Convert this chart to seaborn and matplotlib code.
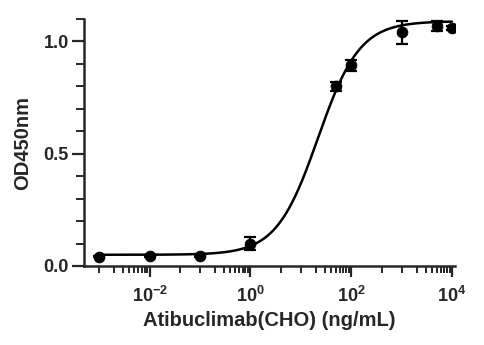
import numpy as np
import pandas as pd
import matplotlib
matplotlib.use("Agg")
import matplotlib.pyplot as plt
import matplotlib.ticker as mticker
import seaborn as sns

# Data
conc = [0.001, 0.01, 0.1, 1, 50, 100, 1000, 5000, 10000]
od450 = [0.042, 0.043, 0.044, 0.100, 0.800, 0.893, 1.040, 1.068, 1.061]
sem = [0.004, 0.004, 0.004, 0.030, 0.020, 0.025, 0.050, 0.022, 0.008]

# 4-parameter logistic fit parameters (bottom, top, EC50, Hill slope)
fit_bottom = 0.05
fit_top = 1.09
fit_ec50 = 22.0
fit_hill = 1.05

xlabel = "Atibuclimab(CHO) (ng/mL)"
ylabel = "OD450nm"
x_major_exponents = [-2, 0, 2, 4]
y_major_ticks = [0, 0.5, 1.0]

sns.set_style("ticks")
plt.rcParams['font.family'] = ['Liberation Sans', 'DejaVu Sans']
plt.rcParams['font.weight'] = 'bold'
plt.rcParams['mathtext.fontset'] = 'custom'
plt.rcParams['mathtext.rm'] = 'Liberation Sans:bold'
plt.rcParams['mathtext.it'] = 'Liberation Sans:bold'
plt.rcParams['mathtext.bf'] = 'Liberation Sans:bold'

fig = plt.figure(figsize=(4.84, 3.45), dpi=100)
ax = fig.add_axes([84/484, 1 - 266/345, (455-84)/484, (266-19)/345])

xs = np.logspace(-3, 4, 400)
ys = fit_bottom + (fit_top - fit_bottom) / (1 + (fit_ec50 / xs) ** fit_hill)
curve = pd.DataFrame({"x": xs, "y": ys})
sns.lineplot(data=curve, x="x", y="y", ax=ax, color="black", lw=1.8)

df = pd.DataFrame({"conc": conc, "od": od450, "sem": sem})
ax.errorbar(df["conc"], df["od"], yerr=df["sem"], fmt="none", ecolor="black",
            elinewidth=1.6, capsize=4, capthick=1.6, zorder=3)
sns.scatterplot(data=df, x="conc", y="od", ax=ax, color="black", s=60,
                edgecolor="black", zorder=4)

ax.set_xscale("log")
ax.set_xlim(10**-3.3, 10**4.06)
ax.set_ylim(0, 1.1)

# Prism-style ticks: major every two decades, minor ticks in between
ax.xaxis.set_major_locator(mticker.FixedLocator([10.0**k for k in x_major_exponents]))
ax.xaxis.set_major_formatter(mticker.FuncFormatter(
    lambda v, pos: r"$\mathregular{10^{%d}}$" % int(round(np.log10(v)))))
minor = []
for k in [-4, -2, 0, 2]:
    minor.append(4 * 10.0**k)
    minor += [m * 10.0**(k + 1) for m in range(1, 10)]
minor = [v for v in minor if 10**-3.3 <= v <= 10**4.06]
ax.xaxis.set_minor_locator(mticker.FixedLocator(minor))
ax.xaxis.set_minor_formatter(mticker.NullFormatter())

ax.yaxis.set_major_locator(mticker.FixedLocator(y_major_ticks))
ax.yaxis.set_major_formatter(mticker.FormatStrFormatter("%.1f"))
ax.yaxis.set_minor_locator(mticker.MultipleLocator(0.1))

for s in ["top", "right"]:
    ax.spines[s].set_visible(False)
for s in ["left", "bottom"]:
    ax.spines[s].set_linewidth(1.8)

ax.tick_params(axis="y", which="major", length=9, width=1.6, labelsize=13, pad=2)
ax.tick_params(axis="y", which="minor", length=6, width=1.4)
ax.tick_params(axis="x", which="major", length=8, width=1.6, labelsize=13, pad=6)
ax.tick_params(axis="x", which="minor", length=5, width=1.4)

ax.set_xlabel(xlabel, fontsize=14.5, fontweight="bold", labelpad=4)
ax.set_ylabel(ylabel, fontsize=14.5, fontweight="bold", labelpad=8)

fig.savefig("out.png", dpi=100)
